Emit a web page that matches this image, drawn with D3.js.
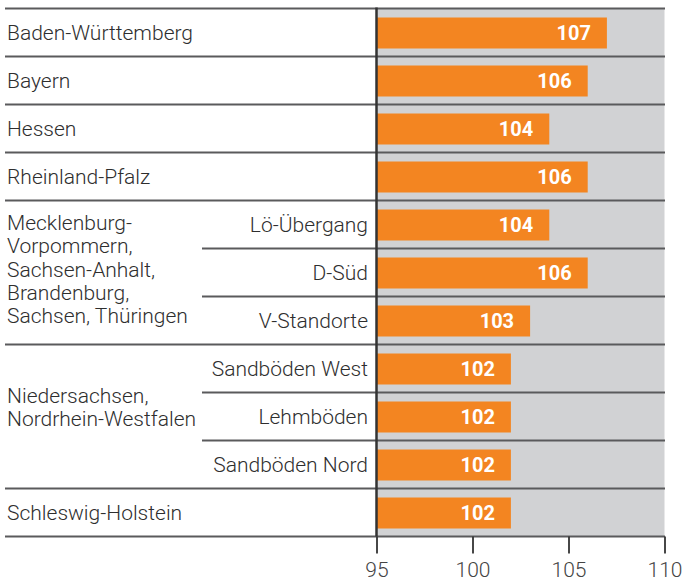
<!DOCTYPE html>
<html>
<head>
<meta charset="utf-8">
<script src="https://cdn.jsdelivr.net/npm/d3@7/dist/d3.min.js"></script>
<style>
  html, body { margin: 0; padding: 0; background: #fff; }
  svg { display: block; }
  text { font-family: Roboto, "Liberation Sans", Arial, sans-serif; }
</style>
</head>
<body>
<svg id="chart" width="682" height="584"></svg>
<script>
// ---- data ----
const rowLabels = ["Baden-Württemberg", "Bayern", "Hessen", "Rheinland-Pfalz",
  "Lö-Übergang", "D-Süd", "V-Standorte",
  "Sandböden West", "Lehmböden", "Sandböden Nord",
  "Schleswig-Holstein"];
const values = [107, 106, 104, 106, 104, 106, 103, 102, 102, 102, 102];
// which group each row belongs to (-1 = stand-alone row)
const rowGroup = [-1, -1, -1, -1, 0, 0, 0, 1, 1, 1, -1];
const groupLabels = [
  ["Mecklenburg-", "Vorpommern,", "Sachsen-Anhalt,", "Brandenburg,", "Sachsen, Thüringen"],
  ["Niedersachsen,", "Nordrhein-Westfalen"]
];
const tickValues = [95, 100, 105, 110];
const xDomain = [95, 110];

// ---- layout ----
const svg = d3.select("#chart");
const plotLeft = 376.5, plotRight = 664.5, plotTop = 8.5, plotBottom = 536.5;
const lineLeft = 5, subLineLeft = 202;
const orange = "#F38521", gray = "#D1D2D4", lineCol = "#5a5a5c", textCol = "#2e2e2e";
const labelFont = 21, labelWeight = 300;

const x = d3.scaleLinear().domain(xDomain).range([plotLeft, plotRight]);
const y = d3.scaleBand().domain(d3.range(rowLabels.length)).range([plotTop, plotBottom]).padding(0);
const bw = y.bandwidth();

// gray background
svg.append("rect")
  .attr("x", x(xDomain[0])).attr("y", plotTop)
  .attr("width", x(xDomain[1]) - x(xDomain[0])).attr("height", plotBottom - plotTop)
  .attr("fill", gray);

// bars
const barH = 31;
svg.append("g").selectAll("rect").data(values).join("rect")
  .attr("x", x(xDomain[0]))
  .attr("y", (d, i) => y(i) + (bw - barH) / 2 + 0.5)
  .attr("width", d => x(d) - x(xDomain[0]))
  .attr("height", barH)
  .attr("fill", orange);

// value labels
svg.append("g").selectAll("text").data(values).join("text")
  .attr("x", d => x(d) - 16)
  .attr("y", (d, i) => y(i) + bw / 2 + 7.5)
  .attr("text-anchor", "end")
  .attr("fill", "#fff")
  .attr("font-family", "\"Liberation Sans\", Arial, sans-serif")
  .attr("font-weight", "bold")
  .attr("font-size", 20)
  .text(d => d);

// separator lines
const boundaries = d3.range(rowLabels.length + 1);
svg.append("g").selectAll("line").data(boundaries).join("line")
  .attr("x1", i => (i > 0 && i < rowLabels.length && rowGroup[i] >= 0 && rowGroup[i] === rowGroup[i - 1]) ? subLineLeft : lineLeft)
  .attr("x2", x(xDomain[1]) + 0.5)
  .attr("y1", i => i < rowLabels.length ? y(i) : plotBottom)
  .attr("y2", i => i < rowLabels.length ? y(i) : plotBottom)
  .attr("stroke", lineCol)
  .attr("stroke-width", 2);

// row labels
svg.append("g").selectAll("text").data(rowLabels).join("text")
  .attr("x", (d, i) => rowGroup[i] >= 0 ? 368 : 7)
  .attr("y", (d, i) => y(i) + bw / 2 + 7.5)
  .attr("text-anchor", (d, i) => rowGroup[i] >= 0 ? "end" : "start")
  .attr("fill", textCol)
  .attr("font-size", labelFont)
  .attr("font-weight", labelWeight)
  .text(d => d);

// group labels
const lineH = 23.3;
groupLabels.forEach((lines, g) => {
  const idx = rowGroup.map((v, i) => v === g ? i : -1).filter(i => i >= 0);
  const y0 = y(idx[0]), y1 = y(idx[idx.length - 1]) + bw;
  const c = (y0 + y1) / 2;
  const t = svg.append("text")
    .attr("x", 7)
    .attr("fill", textCol)
    .attr("font-size", labelFont)
    .attr("font-weight", labelWeight);
  const off = lines.length > 2 ? 4 : -2;
  lines.forEach((ln, k) => {
    t.append("tspan")
      .attr("x", 7)
      .attr("y", c + (k - (lines.length - 1) / 2) * lineH + off)
      .text(ln);
  });
});

// vertical axis line at 95
svg.append("line")
  .attr("x1", x(xDomain[0])).attr("x2", x(xDomain[0]))
  .attr("y1", plotTop - 1).attr("y2", plotBottom)
  .attr("stroke", "#333").attr("stroke-width", 2.5);

// x axis
const axis = d3.axisBottom(x).tickValues(tickValues).tickSize(17).tickSizeOuter(0).tickPadding(9);
const ga = svg.append("g").attr("transform", `translate(0,${plotBottom})`).call(axis);
ga.select(".domain").remove();
ga.selectAll(".tick line").attr("stroke", "#333").attr("stroke-width", 1.8);
ga.selectAll(".tick text").attr("fill", "#444").attr("font-size", 21)
  .attr("font-family", "Roboto, \"Liberation Sans\", Arial, sans-serif")
  .attr("font-weight", 300);
</script>
</body>
</html>
